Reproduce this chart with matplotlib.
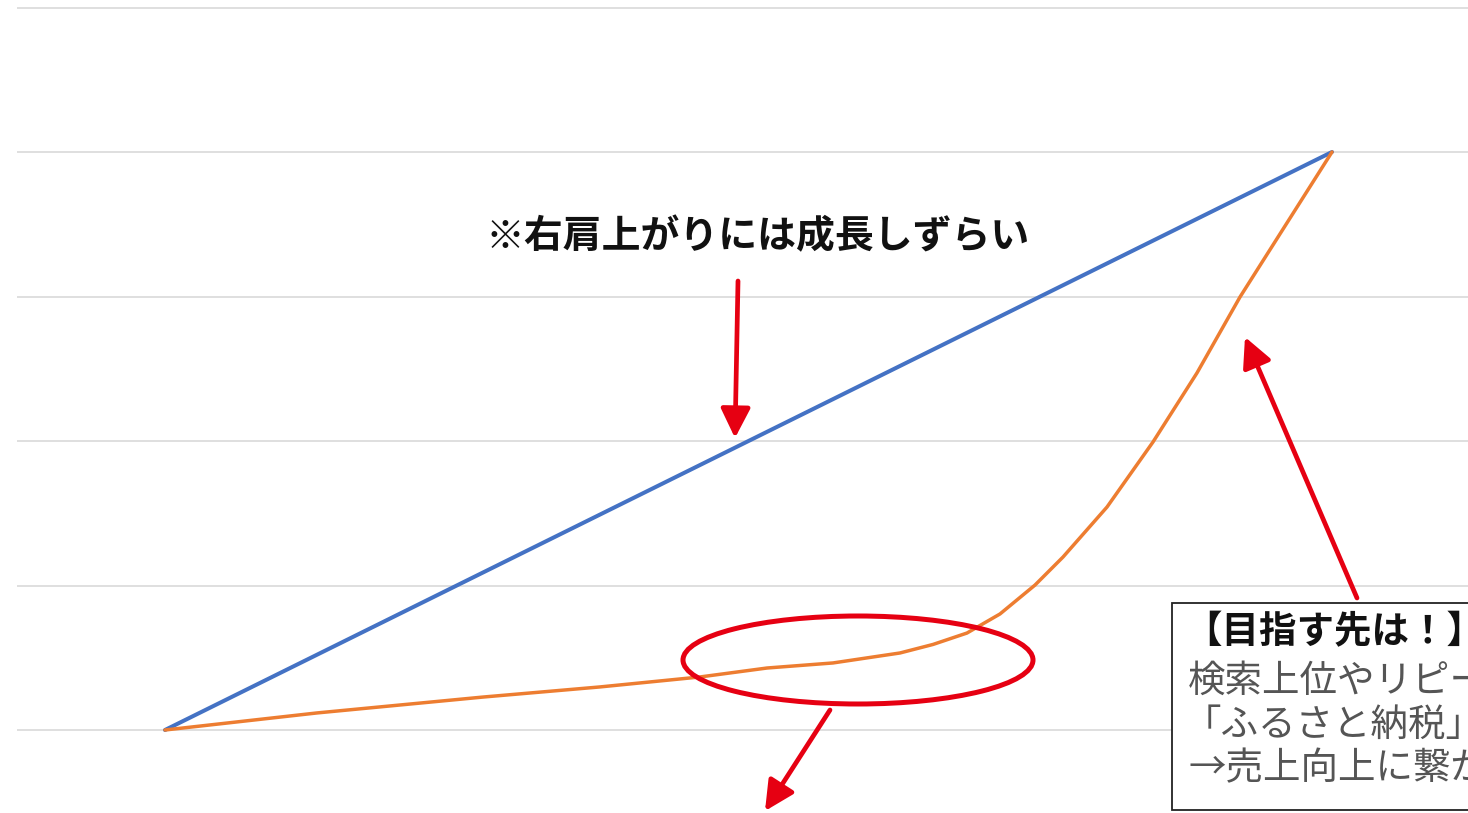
import matplotlib
matplotlib.use("Agg")
import matplotlib.pyplot as plt
from matplotlib.patches import Ellipse, Rectangle

plt.rcParams['font.family'] = ['Noto Sans CJK JP', 'DejaVu Sans']

# ---- data ----
blue_x = [0, 10]
blue_y = [0, 4]

orange_x = [0, 1.302, 2.725, 3.727, 4.584, 5.159, 5.724, 6.298, 6.581, 6.872, 7.155,
            7.455, 7.695, 8.072, 8.466, 8.843, 9.212, 9.614, 10]
orange_y = [0, 0.118, 0.228, 0.298, 0.367, 0.429, 0.464, 0.533, 0.592, 0.671, 0.803,
            1.003, 1.197, 1.543, 1.993, 2.471, 2.997, 3.509, 4.0]

grid_levels = [0, 1, 2, 3, 4, 5]

title_text = "※右肩上がりには成長しずらい"
box_title = "【目指す先は！】"
box_lines = ["検索上位やリピーター", "「ふるさと納税」", "→売上向上に繋がる"]

# ---- figure ----
W, H = 1468, 813
fig = plt.figure(figsize=(W / 100, H / 100), dpi=100)
ax = fig.add_axes([0, 0, 1, 1])

# pixel mapping: x_px = 165 + 116.7*x ; y_px = 730 - 144.5*y
SX, X0 = 116.7, 165.0
SY, Y0 = 144.5, 730.0
ax.set_xlim(-X0 / SX, (W - X0) / SX)
ax.set_ylim((Y0 - H) / SY, Y0 / SY)
ax.axis('off')

def dx(px):
    return (px - X0) / SX

def dy(py):
    return (Y0 - py) / SY

ax.hlines(grid_levels, dx(17), dx(W + 10), colors='#d9d9d9', linewidth=1.2, zorder=1)

ax.plot(blue_x, blue_y, color='#4472C4', linewidth=2.9, solid_capstyle='round', zorder=3)
ax.plot(orange_x, orange_y, color='#ED7D31', linewidth=2.5, solid_capstyle='round',
        solid_joinstyle='round', zorder=3)

red = '#E60012'
arrow_kw = dict(arrowstyle='-|>,head_length=0.9,head_width=0.45', color=red, lw=3.4,
                mutation_scale=20, shrinkA=0, shrinkB=0)

# title annotation
ax.text(dx(758), dy(237), title_text, fontsize=28, fontweight='bold', color='#111111',
        ha='center', va='center', zorder=5)
ax.annotate('', xy=(dx(735), dy(438)), xytext=(dx(738), dy(281)), arrowprops=arrow_kw, zorder=5)

# ellipse
ax.add_patch(Ellipse((dx(858), dy(660)), width=350 / SX, height=88 / SY, fill=False,
                     edgecolor=red, linewidth=3.6, zorder=4))
ax.annotate('', xy=(dx(765), dy(811)), xytext=(dx(830), dy(710)), arrowprops=arrow_kw,
            zorder=5, annotation_clip=False)

# right arrow
ax.annotate('', xy=(dx(1245), dy(337)), xytext=(dx(1357), dy(598)), arrowprops=arrow_kw, zorder=5)

# text box
ax.add_patch(Rectangle((dx(1172), dy(810)), (W + 50 - 1172) / SX, (810 - 603) / SY,
                       facecolor='white', edgecolor='#222222', linewidth=1.3, zorder=6,
                       clip_on=True))
ax.text(dx(1184), dy(632), box_title, fontsize=27, fontweight='bold', color='#111111',
        ha='left', va='center', zorder=7)
ys = [681, 725, 769]
xs = [1188, 1184, 1188]
for t, yy, xx in zip(box_lines, ys, xs):
    ax.text(dx(xx), dy(yy), t, fontsize=27, color='#555555', ha='left', va='center', zorder=7)

fig.savefig('out.png', dpi=100)
